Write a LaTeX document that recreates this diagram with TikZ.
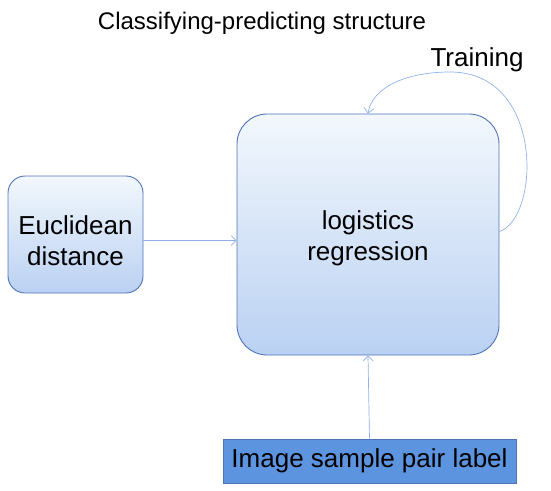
\documentclass[tikz,border=0pt]{standalone}
\usepackage{fontspec}
\setmainfont{Liberation Sans}
\usetikzlibrary{arrows.meta}

\definecolor{boxline}{rgb}{0.31,0.45,0.72}
\definecolor{boxtop}{rgb}{0.95,0.97,0.99}
\definecolor{boxbot}{rgb}{0.73,0.82,0.95}
\definecolor{labfill}{rgb}{0.36,0.58,0.88}
\definecolor{arrline}{rgb}{0.56,0.70,0.92}

\tikzset{
    roundbox/.style={draw=boxline, line width=0.9pt, top color=boxtop, bottom color=boxbot, inner sep=0pt},
    boxtext/.style={align=center, font=\fontsize{26}{31.5}\selectfont, inner sep=0pt},
    flow/.style={draw=arrline, line width=0.7pt, -{Straight Barb[length=5pt,width=10pt]}}
}

\begin{document}
\begin{tikzpicture}[x=1pt, y=-1pt]
    \useasboundingbox (0,0) rectangle (551,490);
    % titles
    \node[font=\fontsize{24}{29}\selectfont] (title) at (262,23) {Classifying-predicting structure};
    \node[boxtext] (train) at (477,60) {Training};
    % boxes
    \node[roundbox, rounded corners=30pt, minimum width=262pt, minimum height=241pt] (logit) at (368,234.5) {};
    \node[boxtext] (logittext) at ([yshift=-4pt]logit.center) {logistics\\regression};
    \node[roundbox, rounded corners=17pt, minimum width=135pt, minimum height=117pt] (eucl) at (75.5,234.5) {};
    \node[boxtext] (eucltext) at ([yshift=-6pt]eucl.center) {Euclidean\\distance};
    \node[draw=boxline, line width=0.6pt, fill=labfill, minimum width=293pt, minimum height=44pt,
        boxtext] (label) at (369.5,461) {Image sample pair label};
    % connectors
    \draw[flow] ([yshift=-6pt]eucl.east) -- ([yshift=-6pt]logit.west);
    \draw[flow] (label.north) -- (logit.south);
    \draw[flow] ([yshift=3pt]logit.east) .. controls (540,218) and (545,72) .. (450,72)
        .. controls (405,72) and (372,88) .. (logit.north);
\end{tikzpicture}
\end{document}
